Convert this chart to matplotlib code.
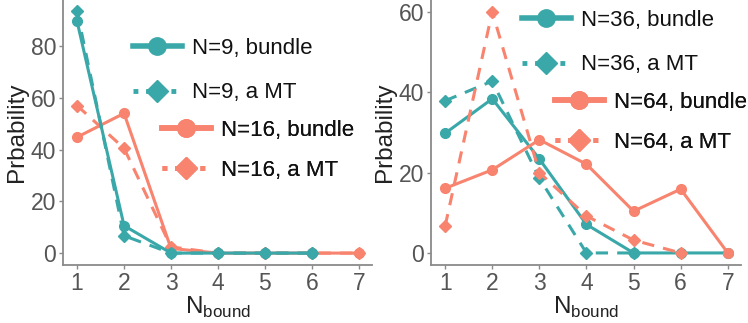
import numpy as np
import matplotlib
matplotlib.use('Agg')
import matplotlib.pyplot as plt
from matplotlib.lines import Line2D

plt.rcParams['font.family'] = ['Liberation Sans', 'DejaVu Sans']
plt.rcParams['mathtext.fontset'] = 'custom'
plt.rcParams['mathtext.rm'] = 'Liberation Sans'

TEAL = '#3aa8a9'
SALMON = '#f8836e'
GREY = '#555555'

# Number of bound filaments
n_bound = [1, 2, 3, 4, 5, 6, 7]

# Left panel: N=9 and N=16
n9_bundle = [89.5, 10.6, 0.0, 0.0, 0.0, 0.0]
n9_mt = [93.5, 6.7, 0.0, 0.0, 0.0, 0.0]
n16_bundle = [44.8, 54.0, 1.8, 0.0, 0.0, 0.0, 0.0]
n16_mt = [57.0, 40.5, 2.4, 0.0, 0.0, 0.0, 0.0]

# Right panel: N=36 and N=64
n36_bundle = [29.8, 38.4, 23.4, 7.1, 0.0, 0.0, 0.0]
n36_mt = [37.9, 42.8, 18.6, 0.0, 0.0]
n64_bundle = [16.1, 20.7, 28.2, 22.1, 10.4, 15.9, 0.0]
n64_mt = [6.7, 60.1, 20.0, 9.2, 3.2, 0.0]

left_labels = ['N=9, bundle', 'N=9, a MT', 'N=16, bundle', 'N=16, a MT']
right_labels = ['N=36, bundle', 'N=36, a MT', 'N=64, bundle', 'N=64, a MT']


def draw_panel(ax, series, ylim, yticks):
    for (vals, col, kind) in series:
        x = n_bound[:len(vals)]
        if kind == 'bundle':
            ax.plot(x, vals, color=col, lw=2.2, marker='o', ms=7, zorder=3)
        else:
            ax.plot(x, vals, color=col, lw=2.2, ls=(0, (4, 3)), marker='D', ms=6.5, zorder=3)
    ax.set_xlim(0.70, 7.28)
    ax.set_ylim(*ylim)
    ax.set_xticks(n_bound)
    ax.set_yticks(yticks)
    for s in ['top', 'right']:
        ax.spines[s].set_visible(False)
    for s in ['left', 'bottom']:
        ax.spines[s].set_color('#8a8a8a')
        ax.spines[s].set_linewidth(1.3)
    ax.tick_params(colors='#8a8a8a', labelcolor=GREY, labelsize=16.5, length=3, width=1, pad=2)
    ax.set_ylabel('Prbability', fontsize=17.5, color='#222222', labelpad=2)
    ax.set_xlabel(r'N$_{\mathrm{bound}}$', fontsize=17.5, color='#222222', labelpad=0)


def legend_handles(col):
    solid = Line2D([], [], color=col, lw=4, marker='o', ms=12.5)
    dotted = Line2D([], [], color=col, lw=3.5, ls=(0, (1, 1.6)), marker='D', ms=11)
    return [solid, dotted]


def add_legend(ax, handles, labels, anchor, spacing):
    leg = ax.legend(handles, labels, loc='upper left', bbox_to_anchor=anchor,
                    bbox_transform=ax.figure.transFigure, frameon=False,
                    fontsize=16, handlelength=2.2, handletextpad=0.45,
                    labelspacing=spacing, borderpad=0, borderaxespad=0,
                    labelcolor='#111111')
    ax.add_artist(leg)


fig = plt.figure(figsize=(7.48, 3.23), dpi=100)
ax1 = fig.add_axes([63 / 748, 58 / 323, 309 / 748, 265 / 323])
ax2 = fig.add_axes([431 / 748, 58 / 323, 310 / 748, 265 / 323])

draw_panel(ax1, [(n16_bundle, SALMON, 'bundle'), (n16_mt, SALMON, 'mt'),
                 (n9_bundle, TEAL, 'bundle'), (n9_mt, TEAL, 'mt')],
           (-4.6, 97.8), [0, 20, 40, 60, 80])
draw_panel(ax2, [(n36_bundle, TEAL, 'bundle'), (n36_mt, TEAL, 'mt'),
                 (n64_bundle, SALMON, 'bundle'), (n64_mt, SALMON, 'mt')],
           (-3.0, 63.0), [0, 20, 40, 60])

add_legend(ax1, legend_handles(TEAL), left_labels[:2], (133 / 748, 1 - 38 / 323), 1.05)
add_legend(ax1, legend_handles(SALMON), left_labels[2:], (162 / 748, 1 - 120 / 323), 0.85)
add_legend(ax2, legend_handles(TEAL), right_labels[:2], (522 / 748, 1 - 10 / 323), 1.05)
add_legend(ax2, legend_handles(SALMON), right_labels[2:], (555 / 748, 1 - 92 / 323), 0.85)

fig.savefig('out.png', dpi=100)
